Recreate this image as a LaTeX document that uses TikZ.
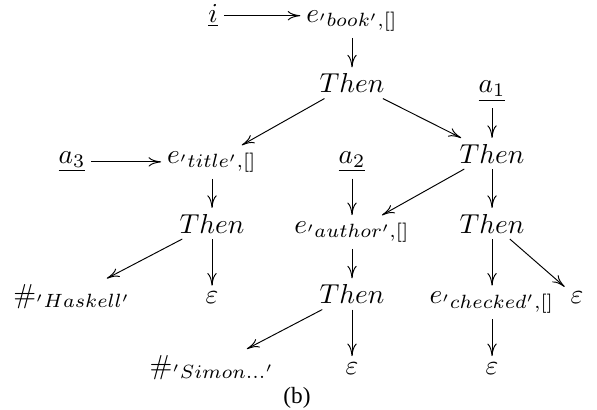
\documentclass[tikz,border=0pt]{standalone}
\usepackage{fontspec}
\newfontfamily\capfont{Liberation Serif}
\usetikzlibrary{arrows.meta}
\begin{document}
\begin{tikzpicture}[x=0.365pt,y=-0.365pt,
  lbl/.style={anchor=base, inner sep=1.9pt, outer sep=0.3pt},
  arr/.style={-{Computer Modern Rightarrow[length=4.6pt,width=3.4pt,line width=0.35pt]}, line width=0.35pt}]
\useasboundingbox (0,0) rectangle (597,409);
% row A
\node[lbl] (i)  at (213,22)    {$\underline{i}$};
\node[lbl] (eb) at (352,22)    {$e_{'book',[]}$};
% row B
\node[lbl] (t1) at (352,92.5)  {$Then$};
\node[lbl] (a1) at (492,92.5)  {$\underline{a_1}$};
% row C
\node[lbl] (a3) at (72,163)    {$\underline{a_3}$};
\node[lbl] (et) at (212,163)   {$e_{'title',[]}$};
\node[lbl] (a2) at (352,163)   {$\underline{a_2}$};
\node[lbl] (t2) at (492,163)   {$Then$};
% row D
\node[lbl] (t3) at (212,233)   {$Then$};
\node[lbl] (ea) at (352,233)   {$e_{'author',[]}$};
\node[lbl] (t4) at (492,233)   {$Then$};
% row E
\node[lbl] (hh) at (72,303.5)  {$\#_{'Haskell'}$};
\node[lbl] (e1) at (212,303.5) {$\varepsilon$};
\node[lbl] (t5) at (352,303.5) {$Then$};
\node[lbl] (ec) at (492,303.5) {$e_{'checked',[]}$};
\node[lbl] (e4) at (577,303.5) {$\varepsilon$};
% row F
\node[lbl] (hs) at (212,374)   {$\#_{'Simon...'}$};
\node[lbl] (e2) at (352,374)   {$\varepsilon$};
\node[lbl] (e3) at (492,374)   {$\varepsilon$};
% caption
\node[anchor=base, inner sep=0pt] (cap) at (297,403) {\capfont\fontsize{8.5}{10}\selectfont (b)};
% connectors
\draw[arr] (i) -- (i -| eb.west);
\draw[arr] (eb) -- (t1);
\draw[arr] (t1) -- (et);
\draw[arr] (t1) -- (t2);
\draw[arr] (a1) -- (t2);
\draw[arr] (a3) -- (a3 -| et.west);
\draw[arr] (a2) -- (ea);
\draw[arr] (t2) -- (ea);
\draw[arr] (t2) -- (t4);
\draw[arr] (et) -- (t3);
\draw[arr] (t3) -- (hh);
\draw[arr] (t3) -- (e1);
\draw[arr] (ea) -- (t5);
\draw[arr] (t4) -- (ec);
\draw[arr] (t4) -- (e4);
\draw[arr] (t5) -- (hs);
\draw[arr] (t5) -- (e2);
\draw[arr] (ec) -- (e3);
\end{tikzpicture}
\end{document}
